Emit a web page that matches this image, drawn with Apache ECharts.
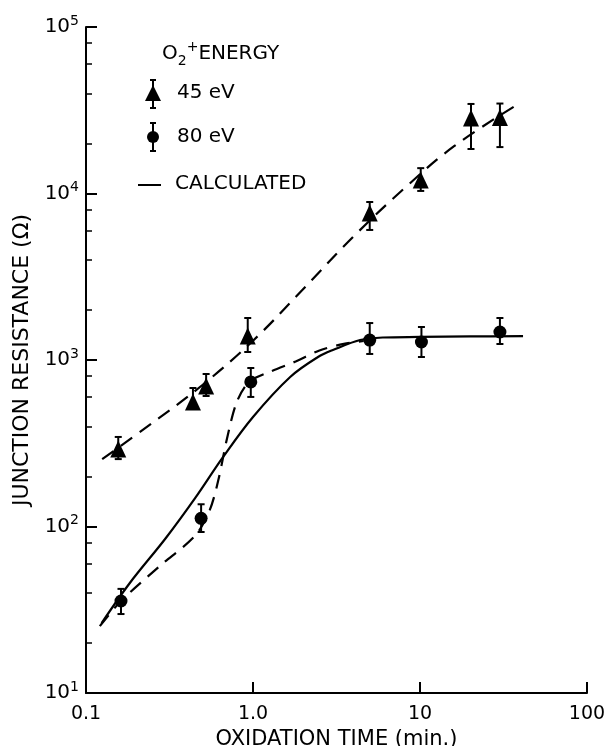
<!DOCTYPE html>
<html>
<head>
<meta charset="utf-8">
<script src="https://cdn.jsdelivr.net/npm/echarts@6.0.0/dist/echarts.min.js"></script>
<style>
html, body { margin: 0; padding: 0; background: #fff; }
#chart { width: 615px; height: 746px; }
</style>
</head>
<body>
<div id="chart"></div>
<script>
// 45 eV (triangles)
var t45 = [0.156, 0.437, 0.524, 0.93, 5.0, 10.1, 20.2, 30.1];
var r45 = [292, 560, 698, 1393, 7640, 12050, 28400, 28600];
var r45Lo = [254, 508, 608, 1117, 6040, 10360, 18500, 19000];
var r45Hi = [345, 679, 824, 1787, 8890, 14200, 34500, 34700];

// 80 eV (circles)
var t80 = [0.162, 0.489, 0.97, 5.0, 10.2, 30.1];
var r80 = [35.7, 112, 738, 1318, 1283, 1473];
var r80Lo = [29.8, 92.7, 600, 1087, 1042, 1248];
var r80Hi = [42.2, 136, 895, 1667, 1578, 1787];

// dashed guide curves
var fit45T = [0.125, 0.25, 0.5, 1.0, 2.0, 4.0, 8.0, 16, 38.6];
var fit45R = [254, 419, 710, 1306, 2667, 5520, 10670, 19230, 34400];
var fit80T = [0.121, 0.162, 0.277, 0.45, 0.55, 0.62, 0.70, 0.80, 0.95, 1.3, 1.8, 2.5, 3.5, 4.6];
var fit80R = [25.2, 35.7, 58, 88, 125, 190, 340, 560, 740, 860, 980, 1140, 1250, 1300];

// calculated (solid)
var calcT = [0.124, 0.183, 0.3, 0.45, 0.661, 1.0, 1.67, 2.45, 3.01, 4.38, 6, 10, 20, 41.4];
var calcR = [26.3, 45.8, 85, 148, 261, 455, 791, 1042, 1148, 1318, 1365, 1375, 1385, 1390];

var xTickLabels = ['0.1', '1.0', '10', '100'];
var yMinorTicks = [20, 40, 60, 80, 200, 400, 600, 800, 2000, 4000, 6000, 8000, 20000, 40000, 60000, 80000];

var FONT = 'DejaVu Sans';
var LFONT = '20px "DejaVu Sans"';

function pairs(xs, ys) {
    return xs.map(function (x, i) { return [x, ys[i]]; });
}
function triples(xs, lo, hi) {
    return xs.map(function (x, i) { return [x, lo[i], hi[i]]; });
}

function renderErr(params, api) {
    var x = api.value(0);
    var p1 = api.coord([x, api.value(1)]);
    var p2 = api.coord([x, api.value(2)]);
    var w = 3.5;
    var st = { stroke: '#000', lineWidth: 2 };
    return {
        type: 'group',
        children: [
            { type: 'line', shape: { x1: p1[0], y1: p1[1], x2: p2[0], y2: p2[1] }, style: st },
            { type: 'line', shape: { x1: p1[0] - w, y1: p1[1], x2: p1[0] + w, y2: p1[1] }, style: st },
            { type: 'line', shape: { x1: p2[0] - w, y1: p2[1], x2: p2[0] + w, y2: p2[1] }, style: st }
        ]
    };
}

var lineDash = [14, 9];

var option = {
    animation: false,
    backgroundColor: '#fff',
    grid: { left: 86, right: 28, top: 27, bottom: 53, outerBoundsMode: 'none', containLabel: false },
    xAxis: {
        type: 'log', logBase: 10, min: 0.1, max: 100,
        name: 'OXIDATION TIME (min.)', nameLocation: 'middle', nameGap: 33,
        nameTextStyle: { fontFamily: FONT, fontSize: 21, color: '#000' },
        axisLine: { lineStyle: { color: '#000', width: 2 } },
        axisTick: { inside: true, length: 11, lineStyle: { color: '#000', width: 2 } },
        axisLabel: {
            fontFamily: FONT, fontSize: 19, color: '#000', margin: 12,
            formatter: function (v) { return xTickLabels[Math.round(Math.log10(v)) + 1]; }
        },
        splitLine: { show: false }
    },
    yAxis: [{
        type: 'log', logBase: 10, min: 10, max: 100000,
        name: 'JUNCTION RESISTANCE (Ω)', nameLocation: 'middle', nameGap: 52,
        nameTextStyle: { fontFamily: FONT, fontSize: 22, color: '#000' },
        axisLine: { lineStyle: { color: '#000', width: 2 } },
        axisTick: { inside: true, length: 11, lineStyle: { color: '#000', width: 2 } },
        axisLabel: {
            margin: 7,
            formatter: function (v) { return '{b|10}{s|' + Math.round(Math.log10(v)) + '}'; },
            rich: {
                b: { fontFamily: FONT, fontSize: 20, color: '#000', lineHeight: 26 },
                s: { fontFamily: FONT, fontSize: 14, color: '#000', verticalAlign: 'top' }
            }
        },
        splitLine: { show: false }
    }, {
        type: 'log', logBase: 10, min: 10, max: 100000, position: 'left',
        axisLine: { show: false },
        axisTick: { inside: true, length: 6, customValues: yMinorTicks, lineStyle: { color: '#000', width: 1.5 } },
        axisLabel: { show: false },
        splitLine: { show: false }
    }],
    series: [
        {
            type: 'line', data: pairs(fit45T, fit45R), smooth: 0.4, showSymbol: false,
            lineStyle: { color: '#000', width: 2.2, type: lineDash }
        },
        {
            type: 'line', data: pairs(fit80T, fit80R), smooth: 0.3, showSymbol: false,
            lineStyle: { color: '#000', width: 2.2, type: lineDash }
        },
        {
            type: 'line', data: pairs(calcT, calcR), smooth: 0.35, showSymbol: false,
            lineStyle: { color: '#000', width: 2.2, type: 'solid' }
        },
        {
            type: 'custom', data: triples(t45, r45Lo, r45Hi), renderItem: renderErr,
            encode: { x: 0, y: [1, 2] }, z: 3
        },
        {
            type: 'custom', data: triples(t80, r80Lo, r80Hi), renderItem: renderErr,
            encode: { x: 0, y: [1, 2] }, z: 3
        },
        {
            type: 'scatter', data: pairs(t45, r45), symbol: 'triangle', symbolSize: [16, 17],
            itemStyle: { color: '#000', opacity: 1 }, z: 4
        },
        {
            type: 'scatter', data: pairs(t80, r80), symbol: 'circle', symbolSize: 13,
            itemStyle: { color: '#000', opacity: 1 }, z: 4
        }
    ],
    graphic: [
        {
            type: 'text', left: 162, top: 40,
            style: {
                text: '{a|O}{sub|2}{sup|+}{a|ENERGY}',
                rich: {
                    a: { fontFamily: FONT, fontSize: 20, fill: '#000', lineHeight: 28 },
                    sub: { fontFamily: FONT, fontSize: 14, fill: '#000', verticalAlign: 'bottom' },
                    sup: { fontFamily: FONT, fontSize: 14, fill: '#000', verticalAlign: 'top' }
                }
            }
        },
        // 45 eV legend symbol
        { type: 'line', shape: { x1: 153, y1: 80, x2: 153, y2: 108 }, style: { stroke: '#000', lineWidth: 2 } },
        { type: 'line', shape: { x1: 150, y1: 80, x2: 156, y2: 80 }, style: { stroke: '#000', lineWidth: 2 } },
        { type: 'line', shape: { x1: 150, y1: 108, x2: 156, y2: 108 }, style: { stroke: '#000', lineWidth: 2 } },
        { type: 'polygon', shape: { points: [[153, 85], [161, 101], [145, 101]] }, style: { fill: '#000' } },
        { type: 'text', left: 177, top: 83, style: { text: '45 eV', font: LFONT, fill: '#000' } },
        // 80 eV legend symbol
        { type: 'line', shape: { x1: 153, y1: 123, x2: 153, y2: 151 }, style: { stroke: '#000', lineWidth: 2 } },
        { type: 'line', shape: { x1: 150, y1: 123, x2: 156, y2: 123 }, style: { stroke: '#000', lineWidth: 2 } },
        { type: 'line', shape: { x1: 150, y1: 151, x2: 156, y2: 151 }, style: { stroke: '#000', lineWidth: 2 } },
        { type: 'circle', shape: { cx: 153, cy: 137, r: 6 }, style: { fill: '#000' } },
        { type: 'text', left: 177, top: 127, style: { text: '80 eV', font: LFONT, fill: '#000' } },
        // calculated legend
        { type: 'line', shape: { x1: 138, y1: 185, x2: 161, y2: 185 }, style: { stroke: '#000', lineWidth: 2 } },
        { type: 'text', left: 175, top: 174, style: { text: 'CALCULATED', font: LFONT, fill: '#000' } }
    ]
};

var myChart = echarts.init(document.getElementById('chart'));
myChart.setOption(option);
</script>
</body>
</html>
